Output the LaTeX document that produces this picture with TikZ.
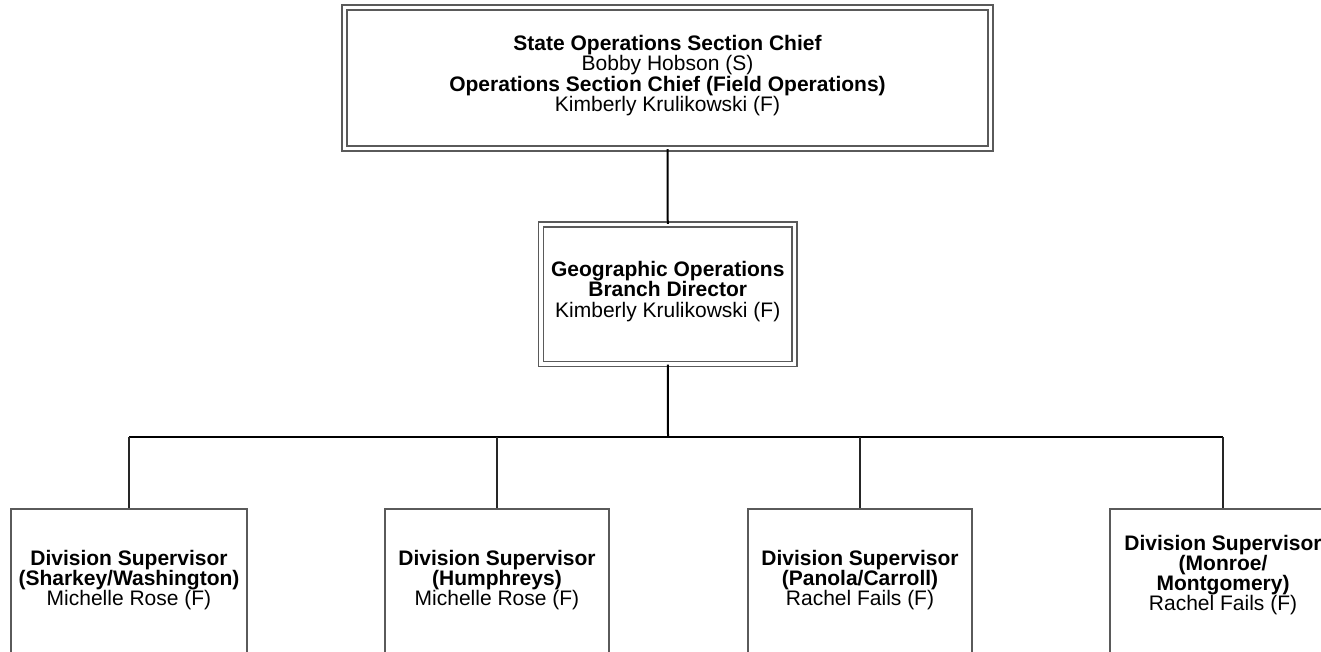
\documentclass[tikz,border=0pt]{standalone}
\usepackage{fontspec}
\setmainfont{Liberation Sans}
\begin{document}
\begin{tikzpicture}[x=1pt,y=-1pt,
  txt/.style={font=\fontsize{21}{20.2}\selectfont, align=center, inner sep=0pt},
  dblbox/.style={draw=frame, line width=1.4pt, double=white, double distance=3.6pt, rectangle, inner sep=0pt},
  sglbox/.style={draw=frame, line width=1.2pt, rectangle, inner sep=0pt},
  mainline/.style={draw=black, line width=2pt},
  busline/.style={draw=black, line width=1.5pt},
  dropline/.style={draw=black!85, line width=1.1pt}
]
\definecolor{frame}{HTML}{5A5A5A}
\useasboundingbox (0,0) rectangle (1321,652);
\clip (0,0) rectangle (1321,652);
\fill[white] (0,0) rectangle (1321,652);

\node[dblbox, minimum width=646pt, minimum height=141pt] (top) at (667.5,78) {};
\node[txt] (topt) at (667.5,75.5)
  {\textbf{State Operations Section Chief}\\Bobby Hobson (S)\\\textbf{Operations Section Chief (Field Operations)}\\Kimberly Krulikowski (F)};

\node[dblbox, minimum width=253.5pt, minimum height=139.5pt] (mid) at (667.75,294.25) {};
\node[txt] (midt) at (667.75,291.5)
  {\textbf{Geographic Operations}\\\textbf{Branch Director}\\Kimberly Krulikowski (F)};

\node[sglbox, minimum width=236pt, minimum height=170pt] (b1) at (129,594) {};
\node[sglbox, minimum width=224pt, minimum height=170pt] (b2) at (497,594) {};
\node[sglbox, minimum width=224pt, minimum height=170pt] (b3) at (860,594) {};
\node[sglbox, minimum width=226pt, minimum height=170pt] (b4) at (1223,594) {};

\node[txt] (b1t) at (129,580) {\textbf{Division Supervisor}\\\textbf{(Sharkey/Washington)}\\Michelle Rose (F)};
\node[txt] (b2t) at (497,580) {\textbf{Division Supervisor}\\\textbf{(Humphreys)}\\Michelle Rose (F)};
\node[txt] (b3t) at (860,580) {\textbf{Division Supervisor}\\\textbf{(Panola/Carroll)}\\Rachel Fails (F)};
\node[txt] (b4t) at (1223,575) {\textbf{Division Supervisor}\\\textbf{(Monroe/}\\\textbf{Montgomery)}\\Rachel Fails (F)};

\coordinate (bus) at (668,437);

\path[mainline] (top.south) -- (mid.north);
\path[mainline] (mid.south) -- (bus);
\path[busline] (b1.north |- bus) -- (b4.north |- bus);
\path[dropline] (bus -| b1.north) -- (b1.north);
\path[dropline] (bus -| b2.north) -- (b2.north);
\path[dropline] (bus -| b3.north) -- (b3.north);
\path[dropline] (bus -| b4.north) -- (b4.north);
\end{tikzpicture}
\end{document}
